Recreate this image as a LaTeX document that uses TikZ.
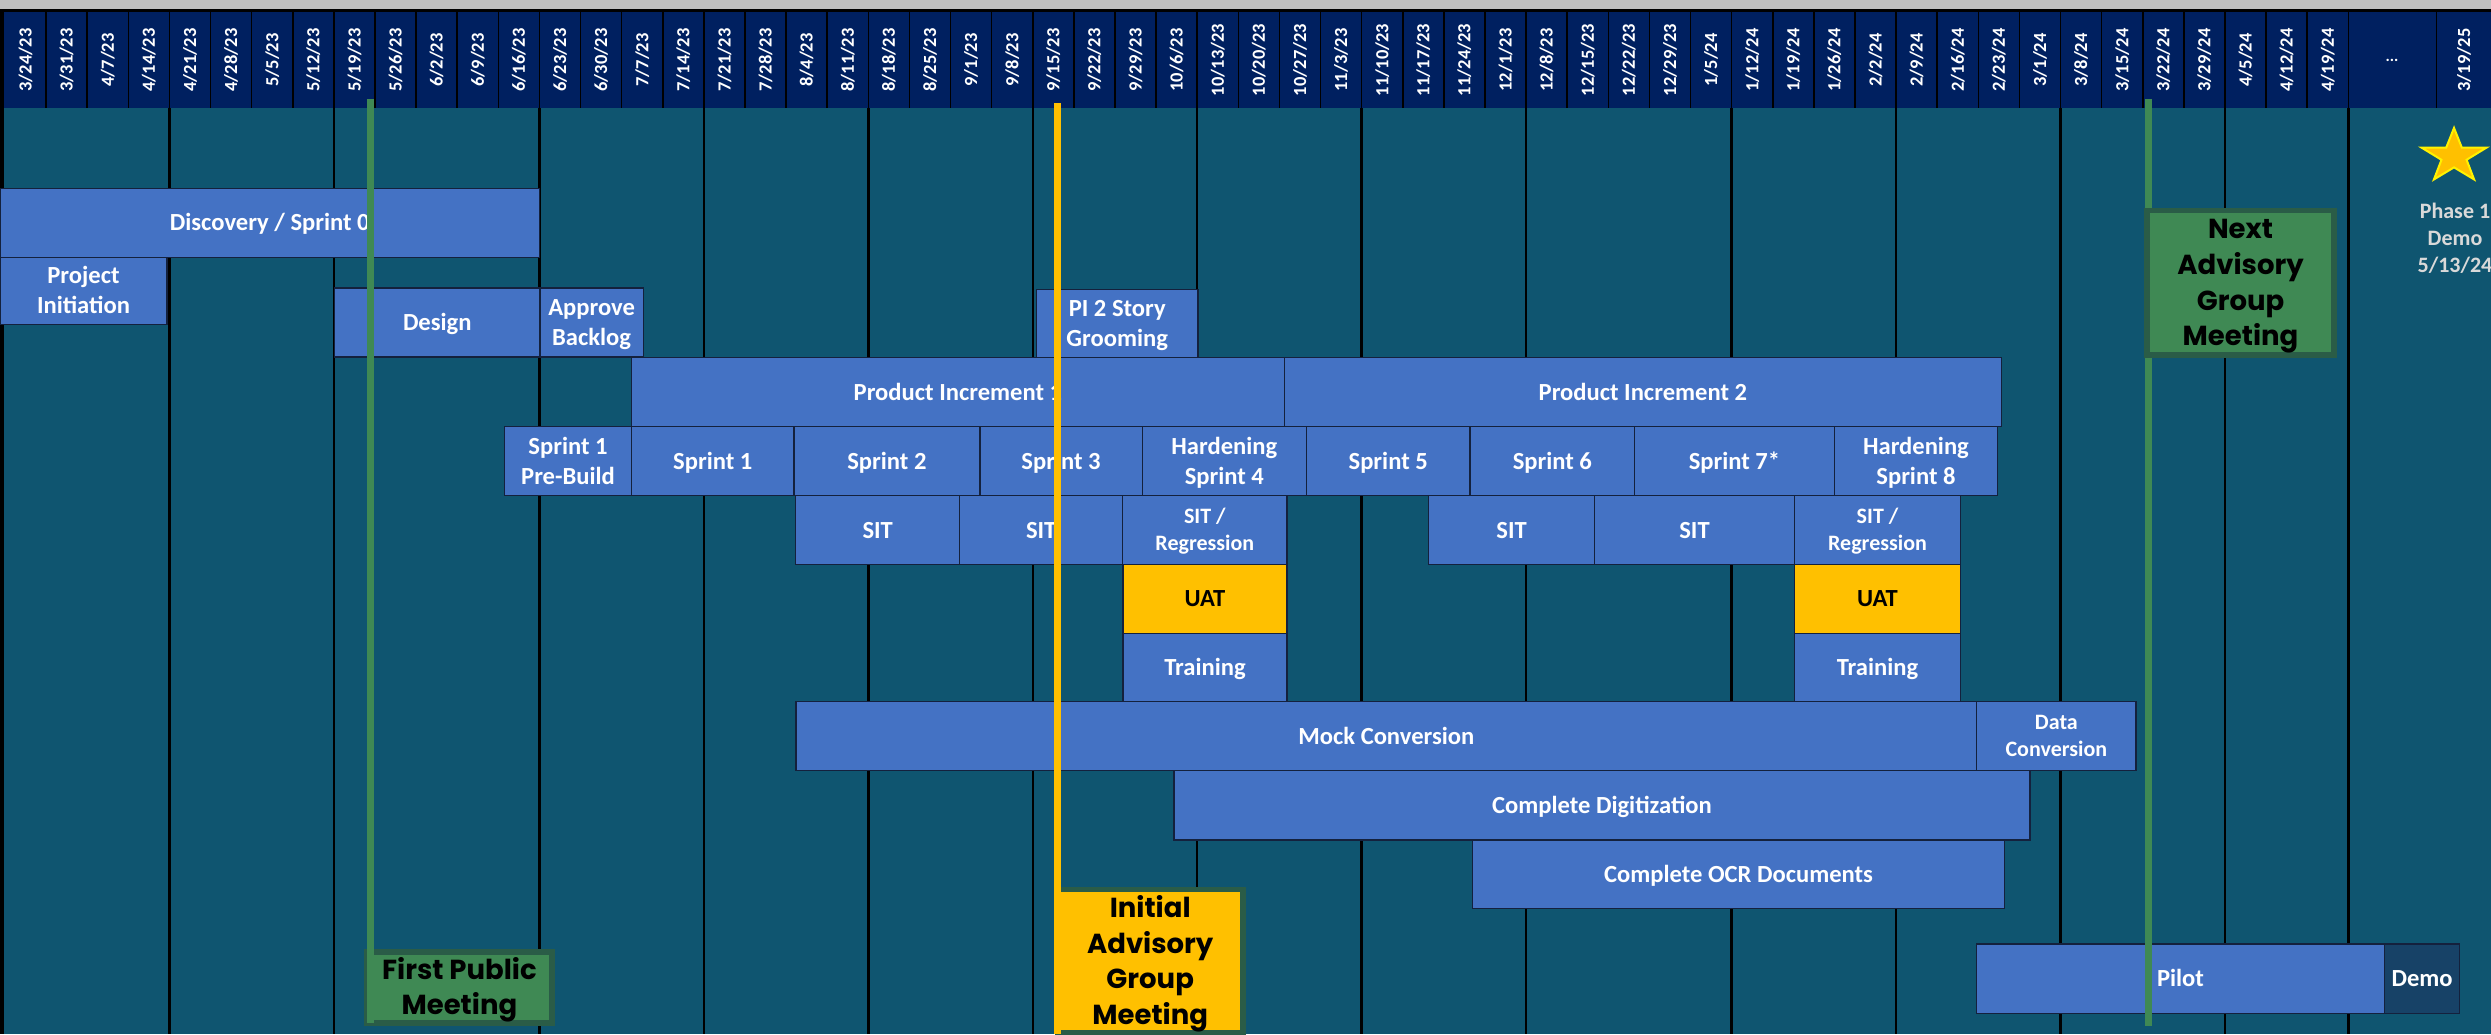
\documentclass[tikz,border=0pt]{standalone}
\usepackage{fontspec}
\setmainfont{Carlito}
\newfontfamily\gothic{Poppins}
\definecolor{greybar}{HTML}{BFBFBF}
\definecolor{navy}{HTML}{002060}
\definecolor{bodyteal}{HTML}{0F5570}
\definecolor{barblue}{HTML}{4472C4}
\definecolor{uatyellow}{HTML}{FFC000}
\definecolor{msgreen}{HTML}{3F8954}
\definecolor{msborder}{HTML}{2A5C47}
\definecolor{demonavy}{HTML}{174267}
\definecolor{phasegrey}{HTML}{D9D9D9}
\definecolor{barline}{HTML}{14213D}
% struts that put the middle of the capitals on the middle of the box
\newcommand\ts{\rule[-0.268em]{0pt}{1.179em}}
\newcommand\ms{\rule[-0.276em]{0pt}{1.25em}}
\tikzset{
  hsep/.style={draw=black, line width=1.6pt},
  bsep/.style={draw=black, line width=2.5pt},
  datelabel/.style={rotate=90, text=white, font=\bfseries\fontsize{18.5}{20}\selectfont, inner sep=0pt},
  taskbox/.style={draw=barline, line width=1.4pt, fill=barblue, text=white, align=center, inner sep=0pt,
    font=\bfseries\fontsize{24.6}{29}\selectfont},
  smalltask/.style={font=\bfseries\fontsize{22}{27}\selectfont},
  uatbox/.style={fill=uatyellow, text=black},
  demobox/.style={fill=demonavy},
  msbox/.style={draw=msborder, line width=5.7pt, fill=msgreen, text=black, align=center, inner sep=0pt,
    font=\gothic\bfseries\fontsize{27.5}{35.7}\selectfont},
  greenline/.style={draw=msgreen, line width=7.4pt},
  yellowline/.style={draw=uatyellow, line width=7.5pt},
  phasetext/.style={text=phasegrey, align=center, font=\bfseries\fontsize{22}{27}\selectfont, inner sep=0pt}
}
\newcommand\task[7][]{\node[taskbox,#1,minimum width={(#5)-(#3)},minimum height={(#6)-(#4)}] (#2) at ({((#3)+(#5))/2},{((#4)+(#6))/2}) {#7};}
\begin{document}
\begin{tikzpicture}[x=1pt,y=-1pt]
\useasboundingbox (0,0) rectangle (2491,1034);
% background
\fill[bodyteal] (0,0) rectangle (2491,1034);
\fill[greybar] (0,0) rectangle (2491,9);
\fill[black] (0,9) rectangle (2491,11.7);
\fill[navy] (0,11.7) rectangle (2491,108.3);
\fill[black] (0,9) rectangle (3.5,1034);
% header separators
\foreach \i in {1,...,57} \draw[hsep] ({5+41.11*\i},11.7) -- ({5+41.11*\i},108.3);
\draw[hsep] (2436.6,11.7) -- (2436.6,108.3);
% dates
\foreach \dt [count=\i from 0] in {3/24/23,3/31/23,4/7/23,4/14/23,4/21/23,4/28/23,5/5/23,5/12/23,5/19/23,5/26/23,6/2/23,6/9/23,6/16/23,6/23/23,6/30/23,7/7/23,7/14/23,7/21/23,7/28/23,8/4/23,8/11/23,8/18/23,8/25/23,9/1/23,9/8/23,9/15/23,9/22/23,9/29/23,10/6/23,10/13/23,10/20/23,10/27/23,11/3/23,11/10/23,11/17/23,11/24/23,12/1/23,12/8/23,12/15/23,12/22/23,12/29/23,1/5/24,1/12/24,1/19/24,1/26/24,2/2/24,2/9/24,2/16/24,2/23/24,3/1/24,3/8/24,3/15/24,3/22/24,3/29/24,4/5/24,4/12/24,4/19/24}
  \node[datelabel] (date\i) at ({5+41.11*\i+20.55},60) {\dt};
\node[text=white, font=\bfseries\fontsize{16}{18}\selectfont, inner sep=0pt] (dots) at (2392,60) {...};
\node[datelabel] (dateLast) at (2464,60) {3/19/25};
% body separators
\foreach \i in {4,8,13,17,21,25,29,33,37,42,46,50,54,57} \draw[bsep] ({5+41.11*\i},108.3) -- ({5+41.11*\i},1034);
% tasks
\task{disc}{0}{188.3}{539.5}{257.3}{\ts Discovery / Sprint 0}
\task{init}{0}{257.3}{167}{324.3}{\ts Project\\\ts Initiation}
\task{design}{334.6}{288}{540}{357}{\ts Design}
\task{approve}{540}{288}{643.2}{357}{\ts Approve\\\ts Backlog}
\task{groom}{1036.5}{289.3}{1197.9}{357.3}{\ts PI 2 Story\\\ts Grooming}
\task{pi1}{631.6}{357.7}{1284.2}{426.7}{\ts Product Increment 1}
\task{pi2}{1284.2}{357.7}{2001.5}{426.7}{\ts Product Increment 2}
\task{prebuild}{504.5}{426.7}{631.6}{495.7}{\ts Sprint 1\\\ts Pre-Build}
\task{s1}{631.6}{426.7}{794}{495.7}{\ts Sprint 1}
\task{s2}{794}{426.7}{979.8}{495.7}{\ts Sprint 2}
\task{s3}{979.8}{426.7}{1142.3}{495.7}{\ts Sprint 3}
\task{h4}{1142.3}{426.7}{1306.4}{495.7}{\ts Hardening\\\ts Sprint 4}
\task{s5}{1306.4}{426.7}{1470}{495.7}{\ts Sprint 5}
\task{s6}{1470}{426.7}{1634.7}{495.7}{\ts Sprint 6}
\task{s7}{1634.7}{426.7}{1834.2}{495.7}{\ts Sprint 7*}
\task{h8}{1834.2}{426.7}{1997.7}{495.7}{\ts Hardening\\\ts Sprint 8}
\task{sit1}{795.7}{495.7}{959.7}{564.5}{\ts SIT}
\task{sit2}{959.7}{495.7}{1122.7}{564.5}{\ts SIT}
\task[smalltask]{reg1}{1122.7}{495.7}{1287}{564.5}{\ts SIT /\\\ts Regression}
\task{sit3}{1428.7}{495.7}{1594.5}{564.5}{\ts SIT}
\task{sit4}{1594.5}{495.7}{1794.5}{564.5}{\ts SIT}
\task[smalltask]{reg2}{1794.5}{495.7}{1960.5}{564.5}{\ts SIT /\\\ts Regression}
\task[uatbox]{uat1}{1123}{564.5}{1287}{633.3}{\ts UAT}
\task[uatbox]{uat2}{1794.5}{564.5}{1960.5}{633.3}{\ts UAT}
\task{train1}{1123}{633.3}{1287}{701.7}{\ts Training}
\task{train2}{1794.5}{633.3}{1960.5}{701.7}{\ts Training}
\task{mock}{796}{701.7}{1976.7}{770.7}{\ts Mock Conversion}
\task[smalltask]{dataconv}{1976.7}{701.7}{2136}{770.7}{\ts Data\\\ts Conversion}
\task{digit}{1174}{770.7}{2030}{840}{\ts Complete Digitization}
\task{ocr}{1472.6}{840}{2004.5}{908.5}{\ts Complete OCR Documents}
\task{pilot}{1976.5}{944}{2384.4}{1013.3}{\ts Pilot}
\task[demobox]{demo}{2384.4}{944}{2459.7}{1013.3}{\ts Demo}
% milestones
\coordinate (g1top) at (370.6,99);
\coordinate (g2top) at (2148.5,99);
\coordinate (g2bot) at (2148.5,1026);
\coordinate (y1top) at (1057.7,103);
\draw[greenline] (g2top) -- (g2bot);
\node[msbox, minimum width=185.5, minimum height=71.3] (fpm) at (459.4,987.5) {\ms First Public\\\ms Meeting};
\node[msbox, fill=uatyellow, minimum width=185.6, minimum height=143.5] (iam) at (1150.2,961.3) {\ms Initial\\\ms Advisory\\\ms Group\\\ms Meeting};
\node[msbox, minimum width=186.7, minimum height=144.3] (nam) at (2240.5,282.7) {\ms Next\\\ms Advisory\\\ms Group\\\ms Meeting};
\coordinate (g1bot) at (370.6,1023);
\coordinate (y1bot) at (1057.7,1034);
\draw[greenline] (g1top) -- (g1bot);
\draw[yellowline] (y1top) -- (y1bot);
% star and phase text
\filldraw[fill=uatyellow, draw=yellow, line width=2pt, shift={(2454,156.4)}, xscale=1.2]
  (270:28.5) -- (306:11) -- (342:28.5) -- (18:11) -- (54:28.5) -- (90:11) -- (126:28.5) -- (162:11) -- (198:28.5) -- (234:11) -- cycle;
\node[phasetext] (phase) at (2455,238) {Phase 1\\Demo\\5/13/24};
\end{tikzpicture}
\end{document}
